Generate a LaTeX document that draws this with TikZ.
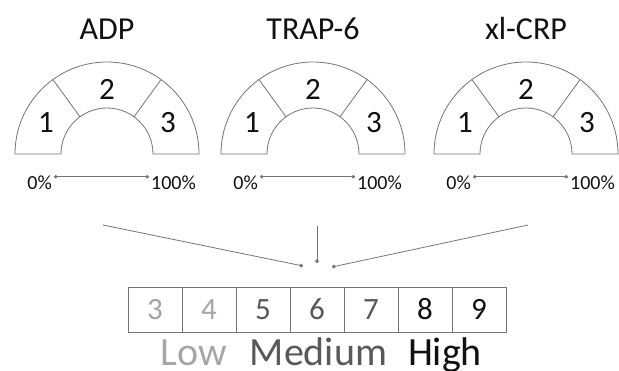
\documentclass[tikz,border=0pt]{standalone}
\usepackage{fontspec}
\setmainfont{Carlito}
\usetikzlibrary{arrows.meta,calc}
\definecolor{lowc}{HTML}{A6A6A6}
\definecolor{medc}{HTML}{595959}
\definecolor{highc}{HTML}{111111}
\definecolor{linec}{HTML}{757575}
\begin{document}
\begin{tikzpicture}[x=1pt,y=1pt,
  gaugeline/.style={draw=linec,line width=0.8pt},
  title/.style={font=\fontsize{32}{32}\selectfont,text=highc,anchor=base,inner sep=0},
  seg/.style={font=\fontsize{31}{31}\selectfont,text=highc,anchor=base,inner sep=0},
  pct/.style={font=\fontsize{20}{20}\selectfont,text=highc,anchor=base,inner sep=0},
  dotarrow/.style={draw=linec,line width=0.7pt,{Circle[length=3.4pt]}-{Circle[length=3.4pt]},shorten <=2pt,shorten >=2pt},
  conn/.style={draw=linec,line width=0.8pt,-{Circle[length=3.8pt]}},
  cell/.style={draw=linec,line width=0.8pt,minimum width=54pt,minimum height=45pt,inner sep=0,font=\fontsize{31}{31}\selectfont},
  level/.style={font=\fontsize{40}{40}\selectfont,anchor=base,inner sep=0}]
\useasboundingbox (0,0) rectangle (619,370);
\fill[white] (0,0) rectangle (619,370);
% gauges
\foreach \cx/\name/\lab in {107/adp/ADP, 313/trap/TRAP-6, 526/crp/xl-CRP}{
  \path[gaugeline] (\cx-92,216) arc[start angle=180,end angle=0,radius=92]
     -- (\cx+46,216) arc[start angle=0,end angle=180,radius=46] -- cycle;
  \draw[gaugeline] ($(\cx,216)+(126:46)$) -- ($(\cx,216)+(126:92)$);
  \draw[gaugeline] ($(\cx,216)+(54:46)$) -- ($(\cx,216)+(54:92)$);
  \node[title] (t-\name) at (\cx,330) {\lab};
  \node[seg] (s1-\name) at (\cx-61,237) {1};
  \node[seg] (s2-\name) at (\cx,270) {2};
  \node[seg] (s3-\name) at (\cx+61,237) {3};
  \node[pct,anchor=base east] (p0-\name) at (\cx-55,180) {0\%};
  \node[pct,anchor=base west] (p1-\name) at (\cx+44,180) {100\%};
  \path (p0-\name.east) ++(0,6.5) coordinate (a0-\name);
  \path (p1-\name.west) ++(0,6.5) coordinate (a1-\name);
  \draw[dotarrow] (a0-\name) -- (a1-\name);
}
% scale boxes
\foreach \v/\c [count=\i from 0] in {3/lowc,4/lowc,5/medc,6/medc,7/medc,8/highc,9/highc}{
  \node[cell,text=\c] (b\v) at (155+54*\i,60.5) {\v};
}
\node[level,text=lowc] (low) at (194,5) {Low};
\node[level,text=medc] (med) at (318.5,5) {Medium};
\node[level,text=highc] (high) at (445,5) {High};
% connectors
\coordinate (c1) at (103,145);
\coordinate (c2) at (317,144);
\coordinate (c3) at (528,145);
\coordinate (e1) at (303,104);
\coordinate (e2) at (317,107);
\coordinate (e3) at (332,103);
\draw[conn] (c1) -- (e1);
\draw[conn] (c2) -- (e2);
\draw[conn] (c3) -- (e3);
\end{tikzpicture}
\end{document}
